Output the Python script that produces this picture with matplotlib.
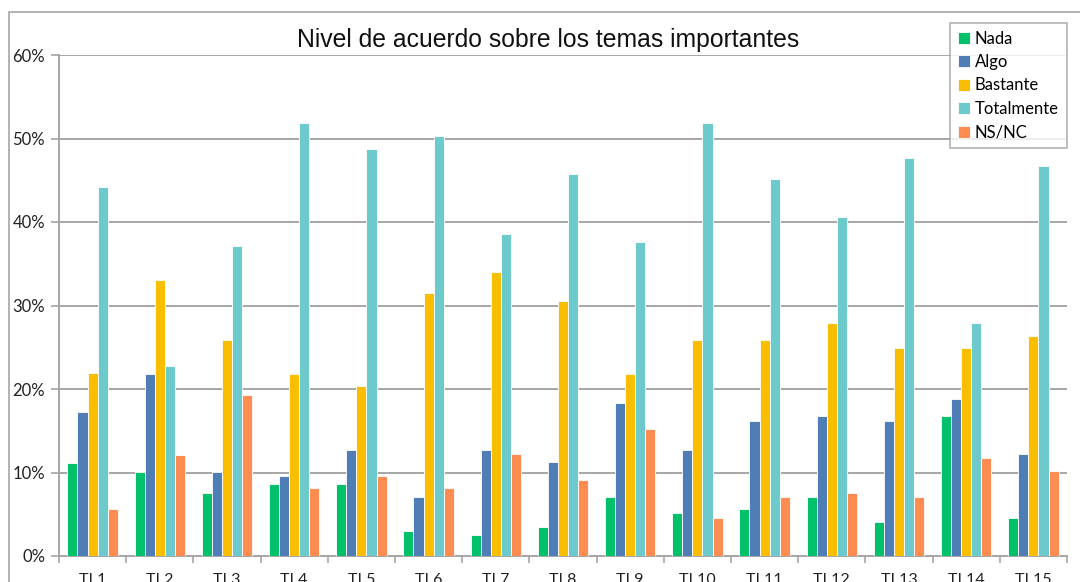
import numpy as np
import matplotlib.pyplot as plt
from matplotlib.patches import Rectangle
from matplotlib.ticker import FuncFormatter

# ─── DATA ────────────────────────────────────────────────────────────────────
temas = [f"TI {i}" for i in range(1, 16)]
series_names = ["Nada", "Algo", "Bastante", "Totalmente", "NS/NC"]

nada       = [11.1, 10.1, 7.6, 8.6, 8.6, 3.0, 2.5, 3.5, 7.1, 5.1, 5.6, 7.1, 4.1, 16.8, 4.6]
algo       = [17.2, 21.8, 10.1, 9.6, 12.7, 7.1, 12.7, 11.2, 18.3, 12.7, 16.2, 16.8, 16.2, 18.8, 12.2]
bastante   = [21.9, 33.0, 25.9, 21.8, 20.3, 31.5, 34.0, 30.5, 21.8, 25.9, 25.9, 27.9, 24.9, 24.9, 26.4]
totalmente = [44.2, 22.8, 37.1, 51.8, 48.7, 50.3, 38.6, 45.7, 37.6, 51.8, 45.2, 40.6, 47.7, 27.9, 46.7]
nsnc       = [5.6, 12.1, 19.3, 8.1, 9.6, 8.1, 12.2, 9.1, 15.2, 4.6, 7.1, 7.6, 7.1, 11.7, 10.2]

# ─── STYLE ───────────────────────────────────────────────────────────────────
COLORS = ["#00C06A", "#4F7DB5", "#F9BE00", "#6CC9CC", "#FF8C50"]
GRID   = "#A6A6A6"
FONT   = ["Lato", "DejaVu Sans"]

values = [nada, algo, bastante, totalmente, nsnc]

fig = plt.figure(figsize=(10.8, 5.82), dpi=100, facecolor="white")
ax = fig.add_axes([59 / 1080, 26 / 582, (1067 - 59) / 1080, (556 - 55) / 582])

x = np.arange(len(temas))
bar_w = 0.15
for i, (name, vals) in enumerate(zip(series_names, values)):
    ax.bar(x + (i - 2) * bar_w, vals, width=bar_w, color=COLORS[i],
           edgecolor="white", linewidth=0.6, label=name, zorder=3)

ax.set_xlim(-0.5, len(temas) - 0.5)
ax.set_ylim(0, 60)
ax.set_yticks(np.arange(0, 61, 10))
ax.yaxis.set_major_formatter(FuncFormatter(lambda v, _: f"{v:.0f}%"))
ax.grid(axis="y", color=GRID, linewidth=1.4, zorder=0)

# x ticks: marks on group boundaries, labels at group centres
ax.set_xticks(np.arange(-0.5, len(temas)), minor=False)
ax.set_xticklabels([])
ax.set_xticks(x, minor=True)
ax.set_xticklabels(temas, minor=True, fontsize=11.5, family=FONT, color="#222222")
ax.tick_params(axis="x", which="major", length=5, color=GRID, width=1.2)
ax.tick_params(axis="x", which="minor", length=0, pad=12)
ax.tick_params(axis="y", length=6, color=GRID, width=1.2, labelsize=12,
               labelcolor="#222222", pad=4)
for lbl in ax.get_yticklabels():
    lbl.set_family(FONT)

for side in ["top", "right"]:
    ax.spines[side].set_visible(False)
ax.spines["left"].set_color(GRID)
ax.spines["left"].set_linewidth(1.4)
ax.spines["bottom"].set_color(GRID)
ax.spines["bottom"].set_linewidth(1.4)

fig.text(548 / 1080, 1 - 40 / 582, "Nivel de acuerdo sobre los temas importantes",
         ha="center", va="center", fontsize=17.8,
         family=["Liberation Sans", "DejaVu Sans"], color="#111111")

leg = fig.legend(loc="upper left", bbox_to_anchor=(950 / 1080, 1 - 23 / 582),
                 frameon=True, fancybox=False, edgecolor="#A0A0A0",
                 prop={"family": FONT, "size": 12}, handlelength=0.75,
                 handleheight=0.75, handletextpad=0.3, labelspacing=0.45,
                 borderpad=0.45, borderaxespad=0)
leg.get_frame().set_linewidth(1.2)

# outer chart frame
fig.patches.append(Rectangle((9 / 1080, -0.1), 1.2, 1 - 12 / 582 + 0.1,
                             transform=fig.transFigure, fill=False,
                             edgecolor="#A6A6A6", linewidth=1.2))

fig.savefig("out.png", dpi=100, facecolor="white")
